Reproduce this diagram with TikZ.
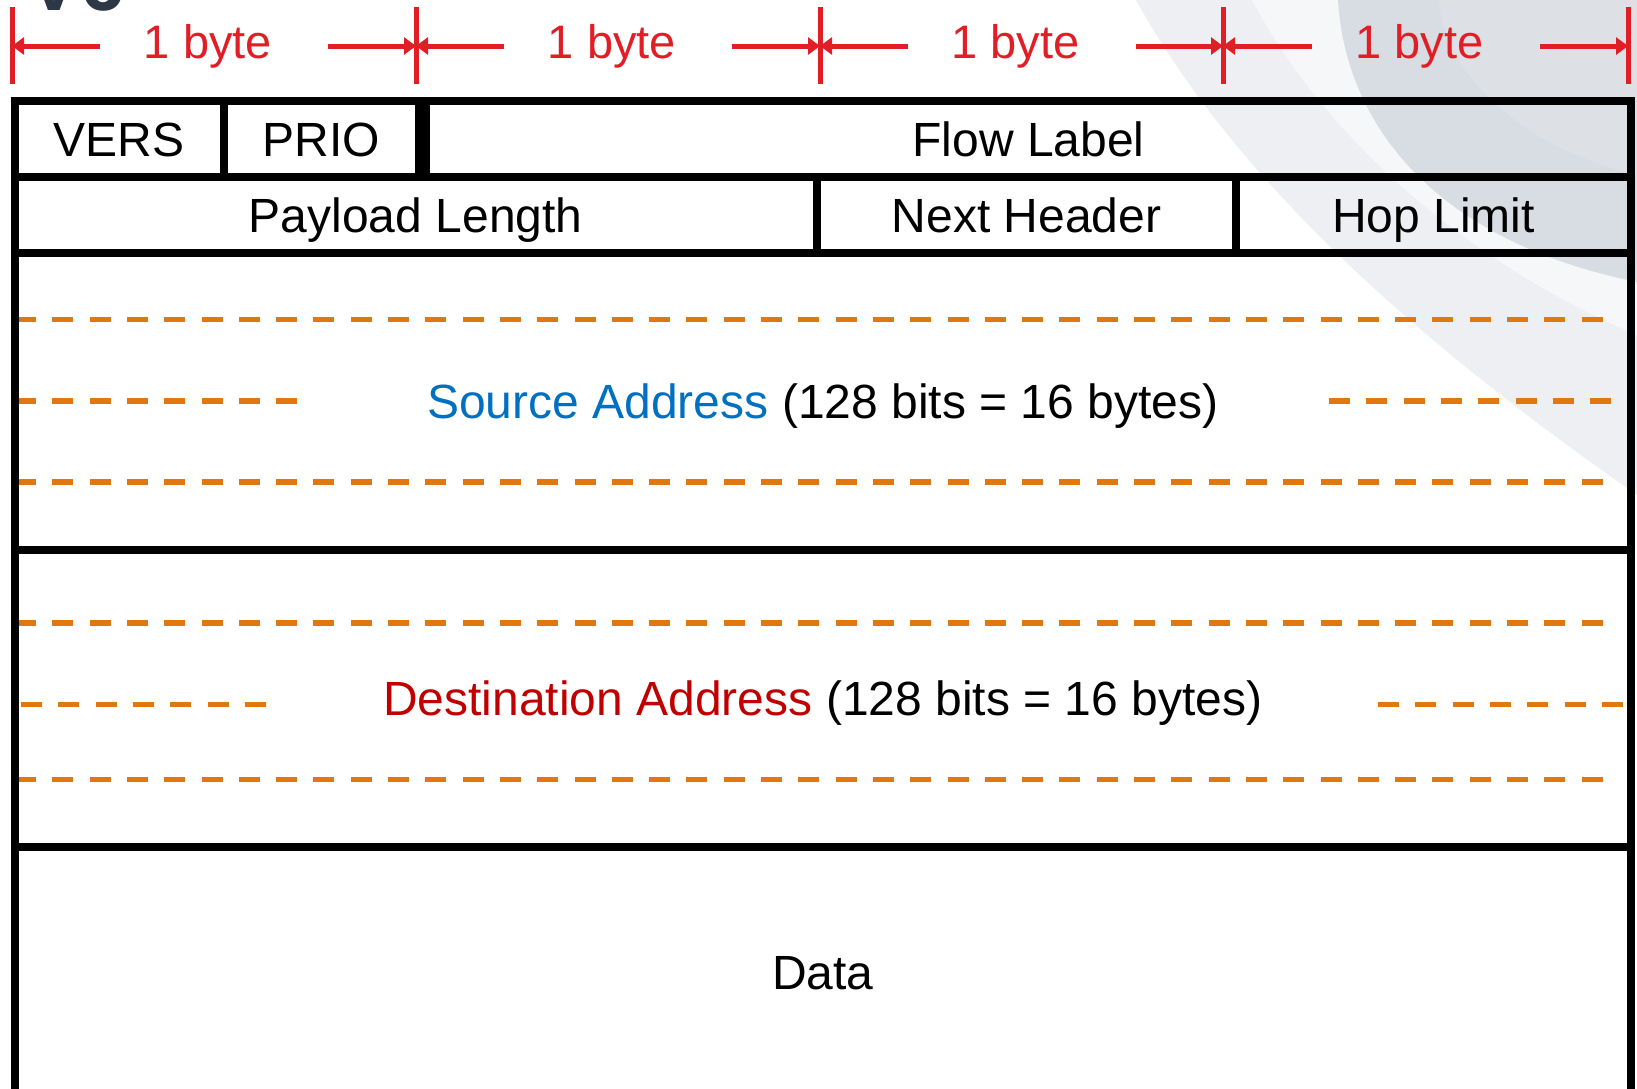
\documentclass[tikz,border=0pt]{standalone}
\usepackage{fontspec}
\setmainfont{Liberation Sans}
\usetikzlibrary{arrows.meta,calc}
\definecolor{dimred}{RGB}{225,30,38}
\definecolor{srcblue}{RGB}{0,112,192}
\definecolor{dstred}{RGB}{192,0,0}
\definecolor{dashor}{RGB}{225,120,15}
\definecolor{bgpale}{RGB}{237,239,242}
\definecolor{bgband}{RGB}{246,247,248}
\definecolor{bgdark}{RGB}{216,221,227}
\definecolor{bgmid}{RGB}{221,225,230}
\definecolor{titlegray}{RGB}{45,55,69}
\begin{document}
\begin{tikzpicture}[x=1pt,y=-1pt,
  cell/.style={draw=black, line width=8pt, rectangle, inner sep=0pt, outer sep=0pt,
    anchor=north west, font=\fontsize{48}{57}\selectfont, text height=34.3pt, text depth=0pt},
  bytelbl/.style={text=dimred, font=\fontsize{47}{56}\selectfont, minimum width=228pt,
    inner sep=0pt, outer sep=0pt},
  dimline/.style={draw=dimred, line width=5pt, -{Triangle[length=12pt,width=17pt]}},
  ticksty/.style={draw=dimred, line width=5pt},
  sepdash/.style={draw=dashor, line width=5.5pt, dash pattern=on 21pt off 16.3pt},
]
\useasboundingbox (0,0) rectangle (1637,1088);
\clip (0,0) rectangle (1637,1088);
\fill[white] (0,0) rectangle (1637,1088);

% background watermark arcs
\fill[bgpale] (1136,0) .. controls (1230,170) and (1400,330) .. (1637,495) -- (1637,0) -- cycle;
\fill[bgband] (1252,0) .. controls (1320,130) and (1460,260) .. (1637,335) -- (1637,0) -- cycle;
\fill[bgdark] (1338,0) .. controls (1345,120) and (1430,240) .. (1637,282) -- (1637,0) -- cycle;
\fill[bgmid] (1439,0) .. controls (1445,80) and (1530,150) .. (1637,175) -- (1637,0) -- cycle;

% partially visible title
\node[anchor=base west, text=titlegray, font=\bfseries\fontsize{80}{90}\selectfont, inner sep=0pt] (title) at (27,10) {V6};

% dashed separators
\draw[sepdash] (15,319.5) -- (1608,319.5);
\draw[sepdash] (15,401) -- (298,401);
\draw[sepdash] (1329,401) -- (1613,401);
\draw[sepdash] (15,482) -- (1608,482);
\draw[sepdash] (15,623) -- (1608,623);
\draw[sepdash] (21,704.5) -- (267,704.5);
\draw[sepdash] (1378,704.5) -- (1624,704.5);
\draw[sepdash] (15,779.5) -- (1608,779.5);

% header cells
\node[cell, minimum width=209.5pt, minimum height=76pt] (vers) at (14.5,101) {VERS};
\node[cell, minimum width=195pt, minimum height=76pt] (prio) at (224,101) {PRIO};
\node[cell, minimum width=1205pt, minimum height=76pt] (flow) at (426,101) {Flow Label};
\node[cell, minimum width=802.5pt, minimum height=76pt] (payload) at (14.5,177) {Payload Length};
\node[cell, minimum width=419pt, minimum height=76pt] (next) at (817,177) {Next Header};
\node[cell, minimum width=395pt, minimum height=76pt] (hop) at (1236,177) {Hop Limit};
\node[cell, minimum width=1616.5pt, minimum height=297pt] (src) at (14.5,253)
  {{\color{srcblue}Source Address} (128 bits = 16 bytes)};
\node[cell, minimum width=1616.5pt, minimum height=297pt] (dst) at (14.5,550)
  {{\color{dstred}Destination Address} (128 bits = 16 bytes)};
\node[cell, minimum width=1616.5pt, minimum height=250pt] (data) at (14.5,847) {Data};

% byte dimension lines
\coordinate (t0) at (12,46);
\coordinate (t1) at (416,46);
\coordinate (t2) at (820,46);
\coordinate (t3) at (1223,46);
\coordinate (t4) at (1628,46);
\foreach \t in {t0,t1,t2,t3,t4}{
  \draw[ticksty] ([yshift=39pt]\t) -- ([yshift=-38pt]\t);
}
\node[bytelbl] (b1) at ($(t0)!0.5!(t1)$) {\hspace*{-12pt}1 byte};
\node[bytelbl] (b2) at ($(t1)!0.5!(t2)$) {\hspace*{-12pt}1 byte};
\node[bytelbl] (b3) at ($(t2)!0.5!(t3)$) {\hspace*{-12pt}1 byte};
\node[bytelbl] (b4) at ($(t3)!0.5!(t4)$) {\hspace*{-12pt}1 byte};
\draw[dimline] (b1.west) -- (t0);
\draw[dimline] (b1.east) -- (t1);
\draw[dimline] (b2.west) -- (t1);
\draw[dimline] (b2.east) -- (t2);
\draw[dimline] (b3.west) -- (t2);
\draw[dimline] (b3.east) -- (t3);
\draw[dimline] (b4.west) -- (t3);
\draw[dimline] (b4.east) -- (t4);
\end{tikzpicture}
\end{document}
